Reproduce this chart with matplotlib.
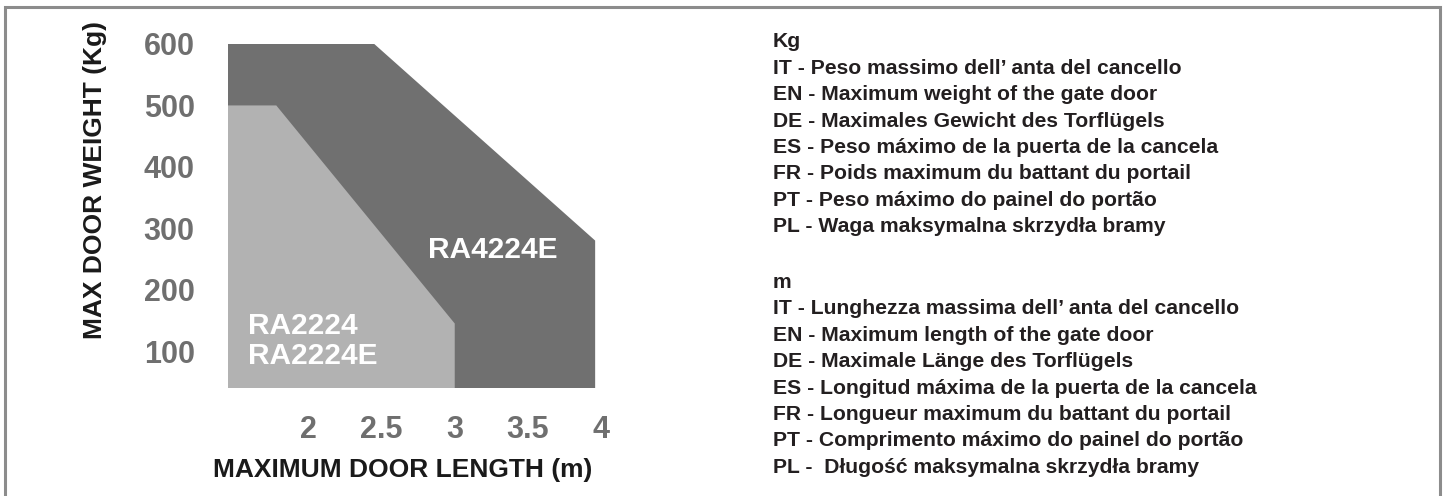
import matplotlib
matplotlib.use("Agg")
import matplotlib.pyplot as plt
from matplotlib.patches import Rectangle

# operating areas (door length m, door weight kg)
length_ra4224e = [1.45, 2.45, 3.96, 3.96, 1.45]
weight_ra4224e = [600, 600, 280, 40, 40]
length_ra2224 = [1.45, 1.78, 3.0, 3.0, 1.45]
weight_ra2224 = [500, 500, 145, 40, 40]

x_ticks = [2, 2.5, 3, 3.5, 4]
x_tick_labels = ["2", "2.5", "3", "3.5", "4"]
y_ticks = [100, 200, 300, 400, 500, 600]
y_tick_labels = ["100", "200", "300", "400", "500", "600"]

kg_lines = [
    "Kg",
    "IT - Peso massimo dell\u2019 anta del cancello",
    "EN - Maximum weight of the gate door",
    "DE - Maximales Gewicht des Torfl\u00fcgels",
    "ES - Peso m\u00e1ximo de la puerta de la cancela",
    "FR - Poids maximum du battant du portail",
    "PT - Peso m\u00e1ximo do painel do port\u00e3o",
    "PL - Waga maksymalna skrzyd\u0142a bramy",
]
m_lines = [
    "m",
    "IT - Lunghezza massima dell\u2019 anta del cancello",
    "EN - Maximum length of the gate door",
    "DE - Maximale L\u00e4nge des Torfl\u00fcgels",
    "ES - Longitud m\u00e1xima de la puerta de la cancela",
    "FR - Longueur maximum du battant du portail",
    "PT - Comprimento m\u00e1ximo do painel do port\u00e3o",
    "PL -  D\u0142ugo\u015b\u0107 maksymalna skrzyd\u0142a bramy",
]

plt.rcParams['font.family'] = ['Liberation Sans', 'DejaVu Sans']

W, H = 1444, 496
fig = plt.figure(figsize=(W / 100, H / 100), dpi=100)
fig.patch.set_facecolor("white")

ax = fig.add_axes([228 / W, 1 - 388 / H, 373 / W, 344 / H])
ax.fill(length_ra4224e, weight_ra4224e, color="#707070", lw=0)
ax.fill(length_ra2224, weight_ra2224, color="#b2b2b2", lw=0)
ax.set_xlim(1.45, 3.96)
ax.set_ylim(40, 600)

ax.set_xticks(x_ticks)
ax.set_xticklabels(x_tick_labels)
ax.set_yticks(y_ticks)
ax.set_yticklabels(y_tick_labels)
ax.tick_params(length=0, labelsize=22, labelcolor="#6f6f6f")
ax.tick_params(axis="x", pad=19.5)
ax.tick_params(axis="y", pad=24)
for lab in ax.get_xticklabels() + ax.get_yticklabels():
    lab.set_fontweight("bold")
for s in ax.spines.values():
    s.set_visible(False)

# model names
ax.text(2.82, 252, "RA4224E", color="white", fontsize=21.5, fontweight="bold")
ax.text(1.59, 128, "RA2224", color="white", fontsize=21.5, fontweight="bold")
ax.text(1.59, 79, "RA2224E", color="white", fontsize=21.5, fontweight="bold")

# axis titles
fig.text(403 / W, 1 - 477 / H, "MAXIMUM DOOR LENGTH (m)", ha="center", va="baseline",
         fontsize=19, fontweight="bold", color="#1a1a1a")
fig.text(95 / W, 1 - 180 / H, "MAX DOOR WEIGHT (Kg)", ha="center", va="center",
         rotation=90, fontsize=19, fontweight="bold", color="#1a1a1a")

# multilingual notes
for i, line in enumerate(kg_lines):
    fig.text(773 / W, 1 - (47 + 26.5 * i) / H, line, ha="left", va="baseline",
             fontsize=15.2, fontweight="bold", color="#231f20")
for i, line in enumerate(m_lines):
    fig.text(773 / W, 1 - (288 + 26.4 * i) / H, line, ha="left", va="baseline",
             fontsize=15.2, fontweight="bold", color="#231f20")

# frame
fig.patches.append(Rectangle((5 / W, -0.05), 1435 / W, 1.05 - 7 / H,
                             transform=fig.transFigure, fill=False,
                             edgecolor="#8c8c8c", lw=2.2))

fig.savefig("out.png", dpi=100)
